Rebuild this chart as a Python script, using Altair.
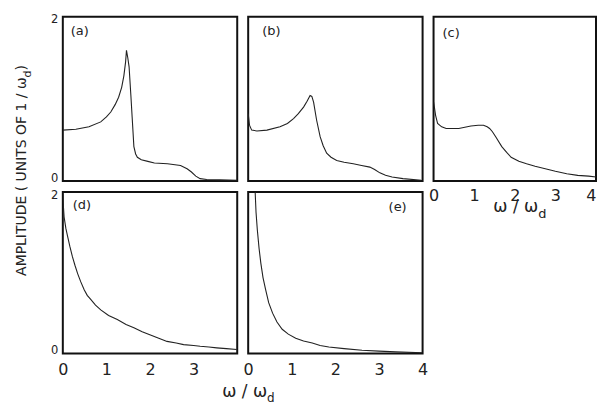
import altair as alt
import pandas as pd

# ---- data ----
a_w = [0, 0.3, 0.6, 0.87, 1.0, 1.1, 1.2, 1.28, 1.35, 1.4, 1.44, 1.46, 1.49, 1.52, 1.56, 1.59, 1.63, 1.67, 1.71, 1.8, 1.95, 2.1, 2.4, 2.7, 2.85, 2.95, 3.05, 3.15, 3.3, 3.6, 4.0]
a_amp = [0.62, 0.63, 0.66, 0.72, 0.78, 0.84, 0.93, 1.02, 1.14, 1.28, 1.45, 1.59, 1.50, 1.39, 1.05, 0.78, 0.42, 0.33, 0.29, 0.26, 0.24, 0.22, 0.21, 0.19, 0.15, 0.11, 0.06, 0.03, 0.02, 0.015, 0.01]

b_w = [0, 0.03, 0.08, 0.2, 0.43, 0.73, 0.9, 1.04, 1.15, 1.27, 1.35, 1.42, 1.46, 1.5, 1.57, 1.65, 1.72, 1.8, 1.9, 2.03, 2.2, 2.41, 2.6, 2.79, 2.9, 3.02, 3.15, 3.3, 3.55, 3.97]
b_amp = [0.82, 0.68, 0.62, 0.61, 0.62, 0.66, 0.70, 0.76, 0.82, 0.90, 0.97, 1.04, 1.03, 0.96, 0.74, 0.54, 0.43, 0.34, 0.29, 0.25, 0.23, 0.21, 0.19, 0.17, 0.14, 0.10, 0.07, 0.05, 0.03, 0.01]

c_w = [0, 0.02, 0.05, 0.1, 0.2, 0.31, 0.62, 0.92, 1.1, 1.23, 1.32, 1.38, 1.45, 1.53, 1.68, 1.8, 1.91, 2.1, 2.29, 2.5, 2.75, 3.0, 3.28, 3.55, 3.82, 4.0]
c_amp = [0.96, 0.90, 0.80, 0.70, 0.66, 0.64, 0.64, 0.67, 0.68, 0.68, 0.66, 0.64, 0.60, 0.54, 0.42, 0.35, 0.29, 0.24, 0.21, 0.18, 0.15, 0.12, 0.09, 0.07, 0.06, 0.05]

d_w = [0, 0.01, 0.03, 0.07, 0.11, 0.16, 0.22, 0.28, 0.34, 0.41, 0.49, 0.56, 0.64, 0.75, 0.87, 1.05, 1.25, 1.45, 1.63, 1.82, 2.01, 2.2, 2.39, 2.6, 2.77, 3.0, 3.15, 3.35, 3.53, 3.75, 3.99]
d_amp = [1.98, 1.85, 1.69, 1.55, 1.45, 1.33, 1.20, 1.09, 0.99, 0.89, 0.79, 0.72, 0.67, 0.60, 0.54, 0.47, 0.42, 0.36, 0.32, 0.27, 0.23, 0.19, 0.15, 0.13, 0.11, 0.10, 0.09, 0.08, 0.07, 0.06, 0.05]

e_w = [0.15, 0.16, 0.18, 0.21, 0.25, 0.29, 0.34, 0.40, 0.47, 0.56, 0.66, 0.78, 0.92, 1.09, 1.27, 1.47, 1.65, 1.85, 2.2, 2.61, 3.0, 3.38, 3.99]
e_amp = [2.2, 2.0, 1.75, 1.53, 1.30, 1.12, 0.94, 0.79, 0.63, 0.50, 0.39, 0.30, 0.24, 0.19, 0.155, 0.13, 0.10, 0.08, 0.06, 0.04, 0.03, 0.02, 0.01]

panel_labels = ["(a)", "(b)", "(c)", "(d)", "(e)"]
x_ticks_full = [0, 1, 2, 3, 4]
x_ticks_d = [0, 1, 2, 3]
y_ticks = [0, 1, 2]
y_title_main = "AMPLITUDE    (  UNITS   OF   1 / ω"
x_title_main = "ω / ω"
sub_d = "d"

FONT = "DejaVu Sans"
INK = "#222222"
W, W_C, H_TOP, H_BOT = 175, 163, 165, 162


def xaxis(values, pad, last_right=False):
    if values is None:
        return None
    kw = dict(values=values, labelFontSize=16, labelPadding=pad, title=None,
              labelFont=FONT, labelColor=INK, format="d", labelFlush=False)
    if last_right:
        kw["labelAlign"] = alt.condition("datum.value == 4", alt.value("right"), alt.value("center"))
    return alt.Axis(**kw)


def yaxis(show, off_top, off_bot):
    if not show:
        return None
    return alt.Axis(values=y_ticks, labelFontSize=11.5, labelPadding=5, title=None,
                    labelFont=FONT, labelColor=INK, format="d", labelFlush=False,
                    labelOffset=alt.expr(f"datum.value == 2 ? {off_top} : (datum.value == 0 ? {-off_bot} : 0)"))


def text_layer(txt, x, y, size, align="left", baseline="middle", angle=0):
    df = pd.DataFrame({"t": [txt]})
    kw = dict(align=align, baseline=baseline, fontSize=size, font=FONT, color=INK)
    if angle:
        kw["angle"] = angle
    return alt.Chart(df).mark_text(**kw).encode(
        x=alt.value(x), y=alt.value(y), text="t:N")


def panel(ws, amps, label, lab_x, lab_y, lab_align, w, h, xaxis_obj=None, yaxis_obj=None, extra=()):
    df = pd.DataFrame({"w": ws, "amp": amps})
    line = alt.Chart(df).mark_line(color=INK, strokeWidth=1.1, clip=True).encode(
        x=alt.X("w:Q", scale=alt.Scale(domain=[0, 4], nice=False, zero=False), axis=xaxis_obj),
        y=alt.Y("amp:Q", scale=alt.Scale(domain=[0, 2], nice=False), axis=yaxis_obj),
        order=alt.Order("w:Q"),
    )
    lab = text_layer(label, lab_x, lab_y, 13, align=lab_align)
    return alt.layer(line, lab, *extra).properties(width=w, height=h)


# shared y title (placed relative to panel a)
ytitle = [
    text_layer(y_title_main, -41, 61, 14, align="right", angle=270),
    text_layer(sub_d, -35, 61, 11, align="left", angle=270),
    text_layer(")", -41, 54, 14, align="left", angle=270),
]
# shared x title for bottom row (relative to panel d)
xtitle_bottom = [
    text_layer(x_title_main, 205, 206, 17, align="right", baseline="alphabetic"),
    text_layer(sub_d, 205, 211, 12, align="left", baseline="alphabetic"),
]
# x title under panel c
xtitle_c = [
    text_layer(x_title_main, 105, 196, 17, align="right", baseline="alphabetic"),
    text_layer(sub_d, 105, 202, 13, align="left", baseline="alphabetic"),
]

pa = panel(a_w, a_amp, panel_labels[0], 8, 14, "left", W, H_TOP,
           yaxis_obj=yaxis(True, 2.5, 2.5), extra=ytitle)
pb = panel(b_w, b_amp, panel_labels[1], 14, 14, "left", W, H_TOP)
pc = panel(c_w, c_amp, panel_labels[2], 9, 16, "left", W_C, H_TOP,
           xaxis_obj=xaxis(x_ticks_full, 6, last_right=True), extra=xtitle_c)
pd_ = panel(d_w, d_amp, panel_labels[3], 10, 13, "left", W, H_BOT,
            xaxis_obj=xaxis(x_ticks_d, 8), yaxis_obj=yaxis(True, 3.5, 3), extra=xtitle_bottom)
pe = panel(e_w, e_amp, panel_labels[4], W - 16, 15, "right", W, H_BOT,
           xaxis_obj=xaxis(x_ticks_full, 8))

chart = alt.concat(pa, pb, pc, pd_, pe, columns=3, spacing=11, bounds="flush").properties(
    padding={"left": 6, "top": 3, "right": 0, "bottom": 0}
).configure_view(stroke="#111111", strokeWidth=2).configure_axis(
    grid=False, domain=False, ticks=False
)

chart.save("out.html", embed_options={"renderer": "svg", "actions": False})
